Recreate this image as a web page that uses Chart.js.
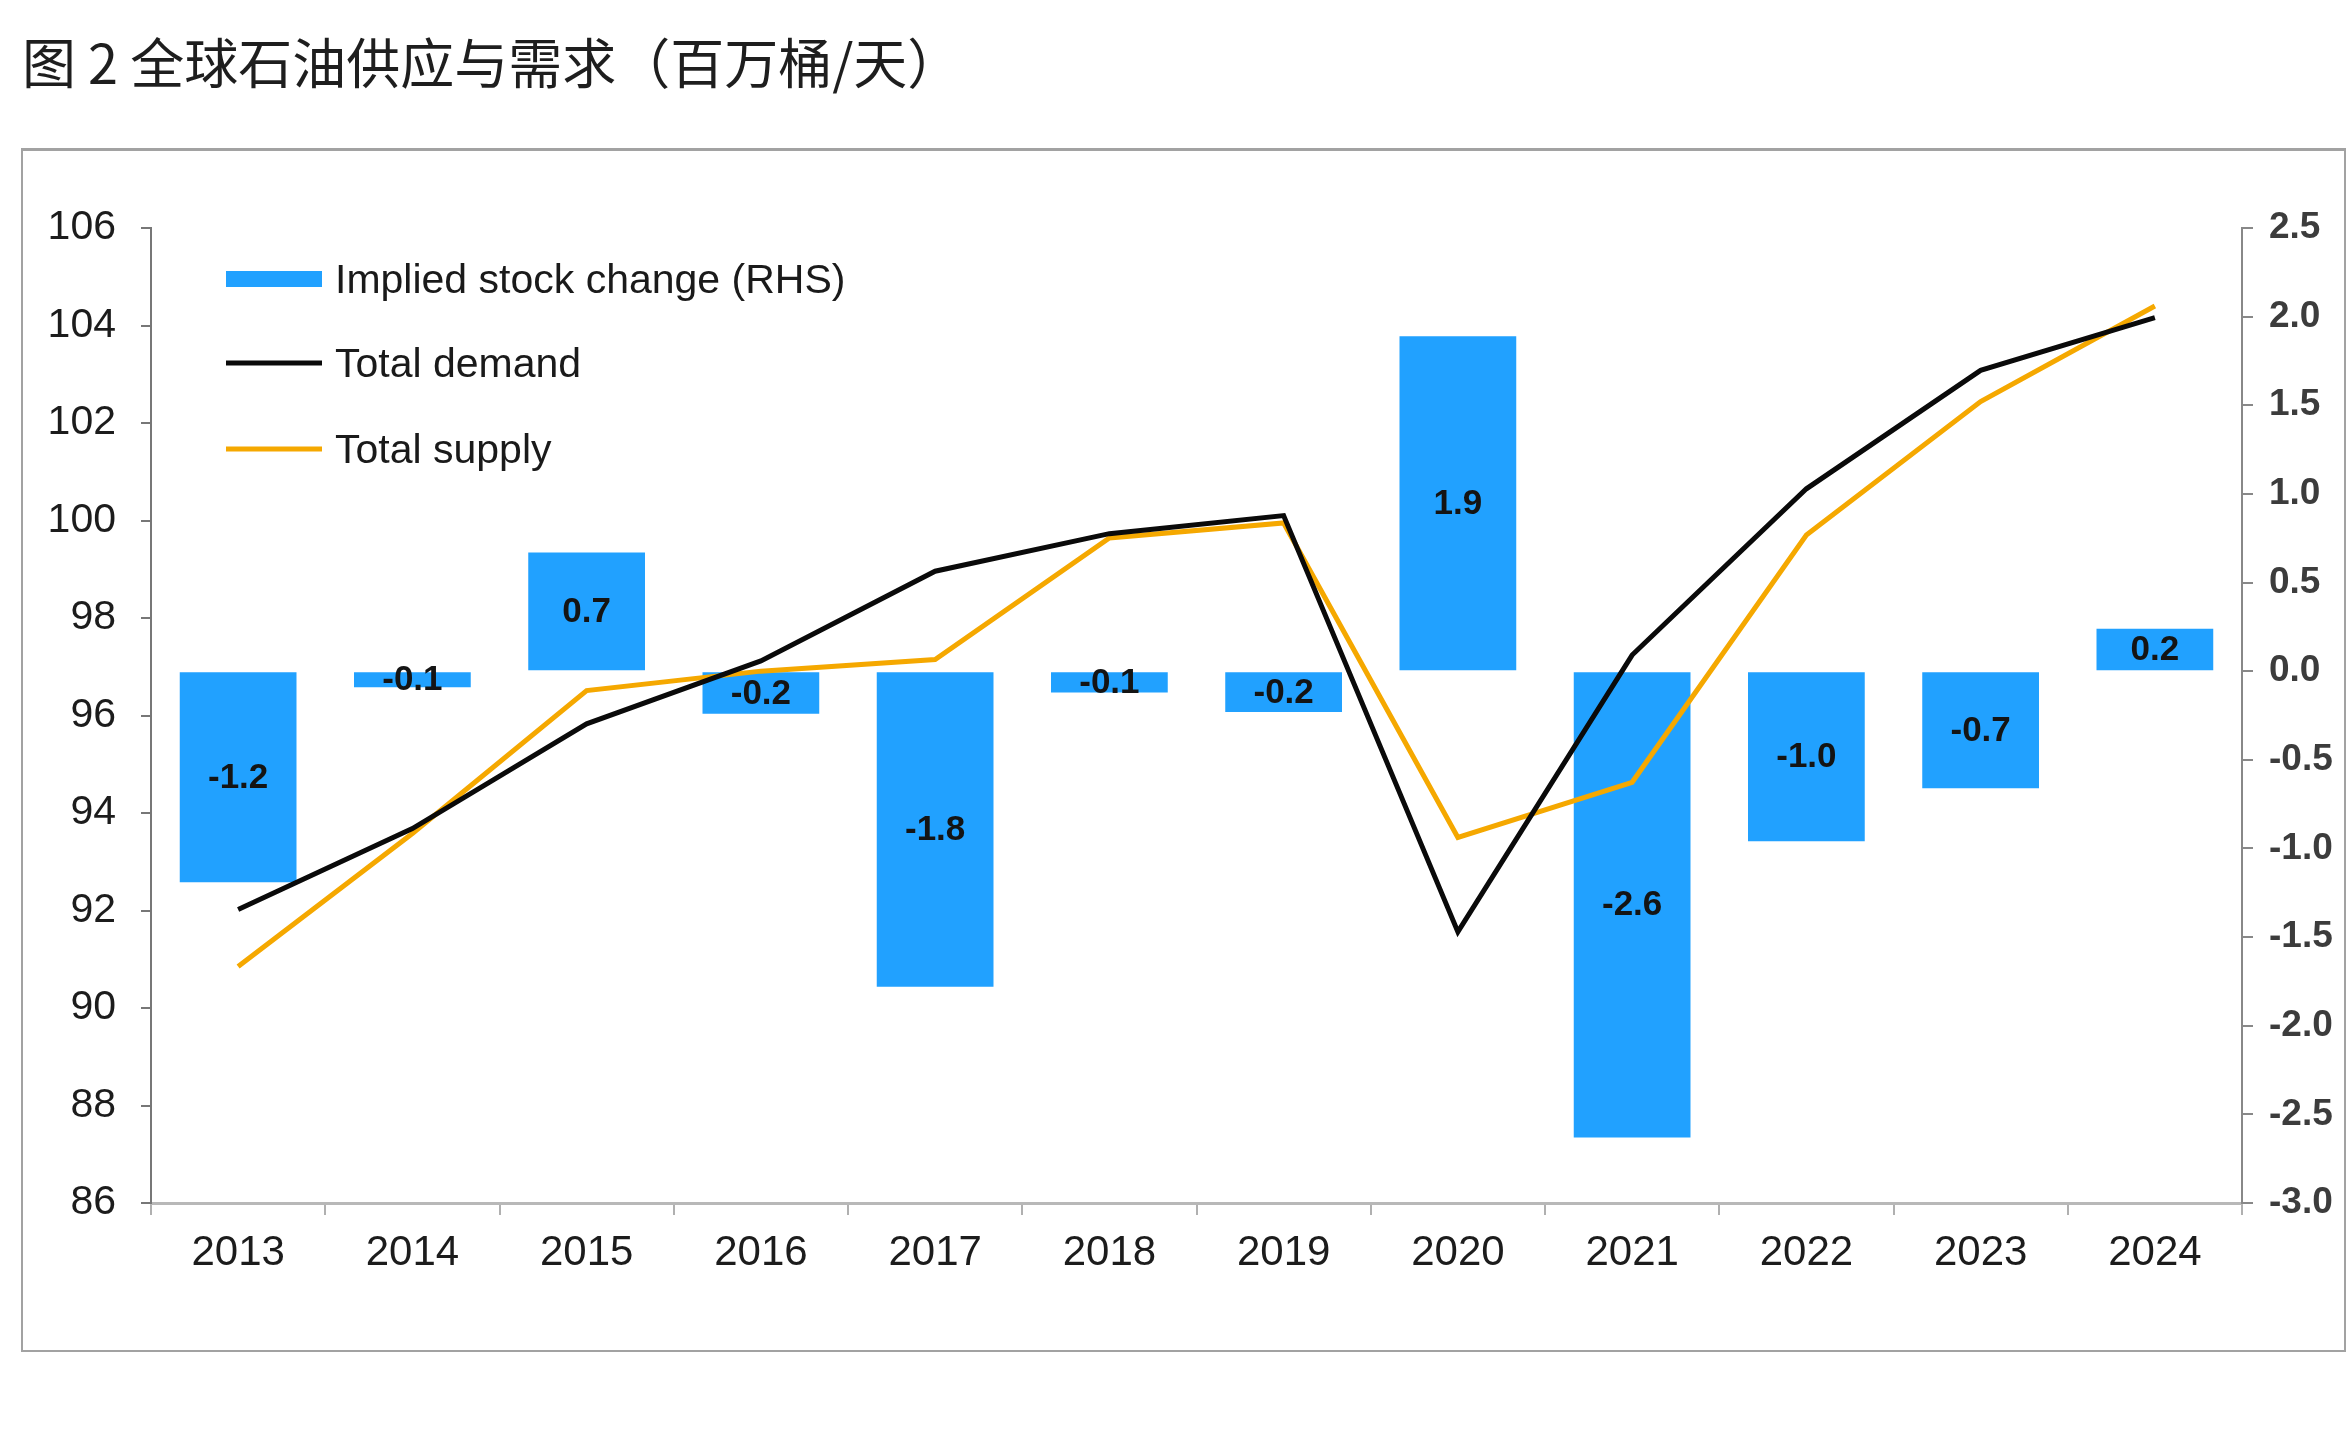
<!DOCTYPE html>
<html>
<head>
<meta charset="utf-8">
<script src="https://cdn.jsdelivr.net/npm/chart.js@4/dist/chart.umd.min.js"></script>
<style>
  html, body { margin:0; padding:0; background:#fff; }
  body { width:2348px; height:1440px; position:relative; overflow:hidden; }
  #title { position:absolute; left:22px; top:29px; font-family:"Noto Sans CJK SC", sans-serif; font-size:54px; line-height:64px; color:#1e1e1e; white-space:nowrap; }
  #frame { position:absolute; left:21px; top:148px; width:2325px; height:1204px; box-sizing:border-box; border:2px solid #a2a2a2; border-top:3px solid #a2a2a2; }
  #wrap { position:absolute; left:0; top:0; width:2348px; height:1440px; }
</style>
</head>
<body>
<div id="title">图 2 全球石油供应与需求（百万桶/天）</div>
<div id="frame"></div>
<div id="wrap"><canvas id="c" width="2348" height="1440"></canvas></div>
<script>
// ---- data ----
const years = ['2013','2014','2015','2016','2017','2018','2019','2020','2021','2022','2023','2024'];
const stockChange = [-1.19, -0.09, 0.67, -0.24, -1.78, -0.12, -0.23, 1.89, -2.63, -0.96, -0.66, 0.24];
const totalDemand = [92.02, 93.68, 95.83, 97.12, 98.96, 99.73, 100.10, 91.56, 97.24, 100.65, 103.08, 104.16];
const totalSupply = [90.85, 93.58, 96.51, 96.91, 97.15, 99.64, 99.95, 93.50, 94.63, 99.70, 102.44, 104.40];
const seriesNames = ['Implied stock change (RHS)', 'Total demand', 'Total supply'];
const leftMin = 86, leftMax = 106, leftStep = 2;
const rightMin = -3, rightMax = 2.5, rightStep = 0.5;

const BLUE = '#21A1FF', BLACK = '#0a0a0a', ORANGE = '#F5A800';
const axisFont = '"Liberation Sans", Arial, sans-serif';

const barLabels = {
  id: 'barLabels',
  afterDatasetDraw(chart, args) {
    if (args.index !== 0) return;
    const ctx = chart.ctx;
    const meta = chart.getDatasetMeta(0);
    ctx.save();
    ctx.font = 'bold 35px "Liberation Sans", Arial, sans-serif';
    ctx.fillStyle = '#141414';
    ctx.textAlign = 'center';
    ctx.textBaseline = 'middle';
    meta.data.forEach((bar, i) => {
      ctx.fillText(stockChange[i].toFixed(1), bar.x, (bar.y + bar.base) / 2 + 1);
    });
    ctx.restore();
  }
};

const insideLegend = {
  id: 'insideLegend',
  afterDraw(chart) {
    const ctx = chart.ctx;
    const a = chart.chartArea;
    const x0 = a.left + 75, sw = 96, tx = a.left + 184;
    const ys = [a.top + 51, a.top + 135, a.top + 221];
    ctx.save();
    ctx.font = '41px "Liberation Sans", Arial, sans-serif';
    ctx.textAlign = 'left';
    ctx.textBaseline = 'middle';
    chart.data.datasets.forEach((ds, i) => {
      const y = ys[i];
      if (ds.type === 'bar') {
        ctx.fillStyle = ds.backgroundColor;
        ctx.fillRect(x0, y - 8, sw, 16);
      } else {
        ctx.strokeStyle = ds.borderColor;
        ctx.lineWidth = 5;
        ctx.beginPath();
        ctx.moveTo(x0, y);
        ctx.lineTo(x0 + sw, y);
        ctx.stroke();
      }
      ctx.fillStyle = '#1a1a1a';
      ctx.fillText(ds.label, tx, y + 3);
    });
    ctx.restore();
  }
};

new Chart(document.getElementById('c'), {
  data: {
    labels: years,
    datasets: [
      { type: 'bar', label: seriesNames[0], data: stockChange, yAxisID: 'y1', backgroundColor: BLUE,
        categoryPercentage: 1, barPercentage: 0.67, order: 3 },
      { type: 'line', label: seriesNames[1], data: totalDemand, yAxisID: 'y', borderColor: BLACK,
        borderWidth: 5, pointRadius: 0, tension: 0, order: 1 },
      { type: 'line', label: seriesNames[2], data: totalSupply, yAxisID: 'y', borderColor: ORANGE,
        borderWidth: 5, pointRadius: 0, tension: 0, order: 2 }
    ]
  },
  options: {
    responsive: false,
    animation: false,
    devicePixelRatio: 1,
    layout: { padding: { top: 228, left: 0, right: 0, bottom: 0 } },
    plugins: { legend: { display: false }, tooltip: { enabled: false }, title: { display: false } },
    scales: {
      x: {
        offset: true,
        grid: { offset: true, drawOnChartArea: false, drawTicks: true, tickLength: 12, color: '#b0b0b0', lineWidth: 2 },
        border: { display: true, color: '#b8b8b8', width: 3 },
        ticks: { font: { family: axisFont, size: 42 }, color: '#1c1c1c', padding: 13, maxRotation: 0 },
        afterFit(s) { s.height = 237; }
      },
      y: {
        position: 'left', min: leftMin, max: leftMax,
        grid: { drawOnChartArea: false, drawTicks: true, tickLength: 10, color: '#777', lineWidth: 2 },
        border: { display: true, color: '#777', width: 2 },
        ticks: { stepSize: leftStep, font: { family: axisFont, size: 41 }, color: '#1c1c1c', padding: 25,
                 callback: v => String(v) },
        afterFit(s) { s.width = 151; }
      },
      y1: {
        position: 'right', min: rightMin, max: rightMax,
        grid: { drawOnChartArea: false, drawTicks: true, tickLength: 11, color: '#888', lineWidth: 2 },
        border: { display: true, color: '#888', width: 2 },
        ticks: { stepSize: rightStep, font: { family: '"Liberation Sans", Arial, sans-serif', size: 37, weight: 'bold' },
                 color: '#3c3c3c', padding: 16, callback: v => Number(v).toFixed(1) },
        afterFit(s) { s.width = 106; }
      }
    }
  },
  plugins: [barLabels, insideLegend]
});
</script>
</body>
</html>
